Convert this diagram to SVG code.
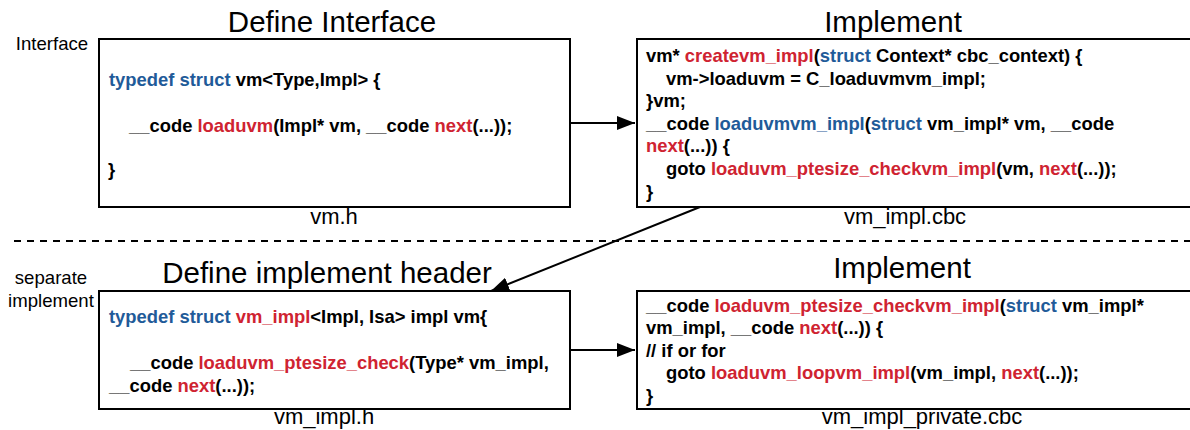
<svg xmlns="http://www.w3.org/2000/svg" width="1190" height="430" viewBox="0 0 1190 430">
<style>
.box{fill:#fff;stroke:#000;stroke-width:2}
.code{font-family:"Liberation Sans",Arial,sans-serif;font-weight:bold;font-size:18.4px;fill:#000}
.k{fill:#1f5b99}
.f{fill:#cf2331}
.title{font-family:"Liberation Sans",Arial,sans-serif;font-size:29.5px;fill:#000;text-anchor:middle}
.file{font-family:"Liberation Sans",Arial,sans-serif;font-size:22px;fill:#000;text-anchor:middle}
.side{font-family:"Liberation Sans",Arial,sans-serif;font-size:18.6px;fill:#000;text-anchor:middle}
.conn{stroke:#000;stroke-width:2;fill:none}
</style>
<defs>
<marker id="arr" markerUnits="userSpaceOnUse" markerWidth="18" markerHeight="14" refX="18" refY="7" orient="auto">
<path d="M0,0 L18,7 L0,14 z" fill="#000"/>
</marker>
</defs>
<rect width="1190" height="430" fill="#fff"/>
<g id="side-labels">
<text class="side" x="52" y="50">Interface</text>
<text class="side" x="51" y="284">separate</text>
<text class="side" x="51" y="306.5">implement</text>
</g>
<line x1="14" y1="241" x2="1190" y2="241" stroke="#000" stroke-width="2" stroke-dasharray="7 6"/>
<g id="n-interface">
<text class="title" x="332" y="32">Define Interface</text>
<rect class="box" x="99" y="39" width="471" height="168"/>
<text class="code" x="109" y="86"><tspan class="k">typedef struct</tspan> vm&lt;Type,Impl&gt; {</text>
<text class="code" x="129" y="132">__code <tspan class="f">loaduvm</tspan>(Impl* vm, __code <tspan class="f">next</tspan>(...));</text>
<text class="code" x="108" y="176">}</text>
<text class="file" x="334" y="224">vm.h</text>
</g>
<g id="n-impl">
<text class="title" x="893" y="32">Implement</text>
<rect class="box" x="637" y="39" width="560" height="168"/>
<text class="code" x="646" y="62">vm* <tspan class="f">createvm_impl</tspan>(<tspan class="k">struct</tspan> Context* cbc_context) {</text>
<text class="code" x="666" y="84.6">vm-&gt;loaduvm = C_loaduvmvm_impl;</text>
<text class="code" x="646" y="107.2">}vm;</text>
<text class="code" x="646" y="129.8">__code <tspan class="k">loaduvmvm_impl</tspan>(<tspan class="k">struct</tspan> vm_impl* vm, __code</text>
<text class="code" x="646" y="152.4"><tspan class="f">next</tspan>(...)) {</text>
<text class="code" x="666" y="175">goto <tspan class="f">loaduvm_ptesize_checkvm_impl</tspan>(vm, <tspan class="f">next</tspan>(...));</text>
<text class="code" x="646" y="197.6">}</text>
<text class="file" x="905" y="224">vm_impl.cbc</text>
</g>
<g id="n-header">
<text class="title" x="327" y="283">Define implement header</text>
<rect class="box" x="99" y="291" width="471" height="118"/>
<text class="code" x="109" y="322.5"><tspan class="k">typedef struct</tspan> <tspan class="f">vm_impl</tspan>&lt;Impl, Isa&gt; impl vm{</text>
<text class="code" x="130" y="369">__code <tspan class="f">loaduvm_ptesize_check</tspan>(Type* vm_impl,</text>
<text class="code" x="109" y="391.5">__code <tspan class="f">next</tspan>(...));</text>
<text class="file" x="324" y="424">vm_impl.h</text>
</g>
<g id="n-private">
<text class="title" x="902" y="278">Implement</text>
<rect class="box" x="637" y="291" width="560" height="118"/>
<text class="code" x="646" y="311.5">__code <tspan class="f">loaduvm_ptesize_checkvm_impl</tspan>(<tspan class="k">struct</tspan> vm_impl*</text>
<text class="code" x="646" y="334">vm_impl, __code <tspan class="f">next</tspan>(...)) {</text>
<text class="code" x="646" y="356.6">// if or for</text>
<text class="code" x="666" y="379.2">goto <tspan class="f">loaduvm_loopvm_impl</tspan>(vm_impl, <tspan class="f">next</tspan>(...));</text>
<text class="code" x="646" y="401.8">}</text>
<text class="file" x="922" y="424">vm_impl_private.cbc</text>
</g>
<g id="connectors">
<line class="conn" x1="571" y1="123" x2="635" y2="123" marker-end="url(#arr)"/>
<line class="conn" x1="571" y1="350" x2="635" y2="350" marker-end="url(#arr)"/>
<line class="conn" x1="700" y1="207" x2="491" y2="291" marker-end="url(#arr)"/>
</g>
</svg>
